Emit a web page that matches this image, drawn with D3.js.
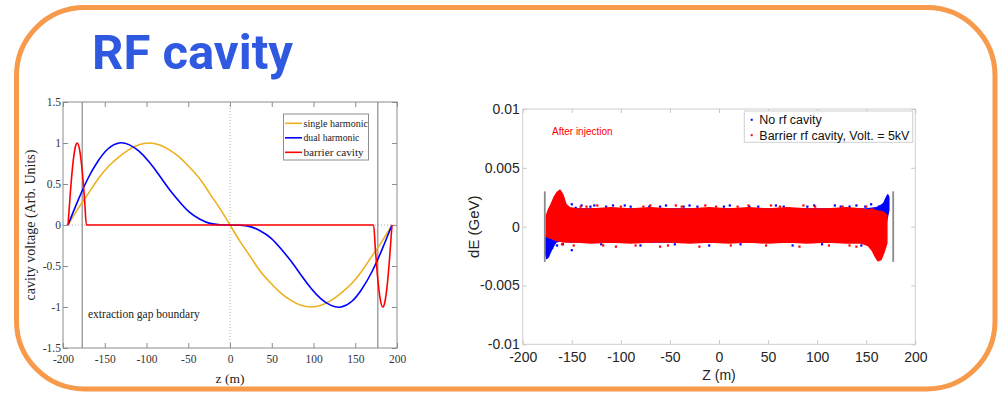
<!DOCTYPE html>
<html>
<head>
<meta charset="utf-8">
<script src="https://cdn.jsdelivr.net/npm/d3@7"></script>
<style>
  html, body { margin: 0; padding: 0; background: #fff; }
  svg { display: block; }
</style>
</head>
<body>
<svg id="slide" width="1008" height="394"></svg>
<script>
// ---------- left plot : cavity voltage shapes ----------
const zGrid = [-194, -182, -170, -158, -146, -133, -121, -109, -97, -85, -73, -61, -49, -36, -24, -12, 0,
  12, 24, 36, 49, 61, 73, 85, 97, 109, 121, 133, 146, 158, 170, 182, 194];
const singleHarmonic = [0, 0.2, 0.38, 0.56, 0.71, 0.83, 0.92, 0.98, 1, 0.98, 0.92, 0.83, 0.71, 0.56, 0.38, 0.2, 0,
  -0.2, -0.38, -0.56, -0.71, -0.83, -0.92, -0.98, -1, -0.98, -0.92, -0.83, -0.71, -0.56, -0.38, -0.2, 0];
const dualHarmonic = [0, 0.3, 0.57, 0.78, 0.93, 1, 0.98, 0.9, 0.77, 0.61, 0.44, 0.29, 0.16, 0.07, 0.02, 0.003, 0,
  -0.003, -0.02, -0.07, -0.16, -0.29, -0.44, -0.61, -0.77, -0.9, -0.98, -1, -0.93, -0.78, -0.57, -0.3, 0];
const zBarrier = [-194, -191, -188, -185, -183, -180, -177, -174, -172, 172, 174, 177, 180, 183, 185, 188, 191, 194];
const barrierCavity = [0, 0.42, 0.76, 0.96, 1, 0.91, 0.66, 0.28, 0, 0, -0.28, -0.66, -0.91, -1, -0.96, -0.76, -0.42, 0];
const gapBoundaryL = [-177, 177];
const xTicksL = [-200, -150, -100, -50, 0, 50, 100, 150, 200];
const yTicksL = [-1.5, -1, -0.5, 0, 0.5, 1, 1.5];
const legendNamesL = ["single harmonic", "dual harmonic", "barrier cavity"];
const colorsL = ["#edb120", "#0000ff", "#ff0000"];

// ---------- right plot : dE vs Z after injection ----------
const zRed = [-176, -174, -171, -168, -165, -162, -159, -156, -152, -145, -130, -110, -90, -70, -50, -30, -10,
  10, 30, 50, 70, 90, 110, 130, 145, 152, 156, 159, 162, 165, 168, 171];
const redTop = [0.0009, 0.0014, 0.0019, 0.0025, 0.0029, 0.0031, 0.0027, 0.0019, 0.0016, 0.0015, 0.0015, 0.0016,
  0.0015, 0.0016, 0.0015, 0.0015, 0.0016, 0.0015, 0.0016, 0.0015, 0.0016, 0.0015, 0.0015, 0.0016, 0.0015,
  0.0014, 0.0015, 0.0014, 0.0013, 0.0013, 0.0012, 0.0010];
const redBottom = [-0.0008, -0.0009, -0.0010, -0.0011, -0.0012, -0.0012, -0.0013, -0.0013, -0.0013, -0.0013,
  -0.0014, -0.0013, -0.0014, -0.0013, -0.0013, -0.0014, -0.0013, -0.0014, -0.0013, -0.0014, -0.0013, -0.0014,
  -0.0013, -0.0014, -0.0014, -0.0016, -0.0020, -0.0025, -0.0029, -0.0028, -0.0022, -0.0014];
const zBlue = [-177, -175.5, -174, -172, -169, -166, -162, -150, -100, -50, 0, 50, 100, 150, 160, 165, 168, 170, 172, 173];
const blueTop = [-0.0012, -0.0006, 0.0004, 0.0010, 0.0012, 0.0013, 0.0014, 0.0015, 0.0015, 0.0015, 0.0015, 0.0015,
  0.0015, 0.0015, 0.0016, 0.0018, 0.0020, 0.0024, 0.0027, 0.0025];
const blueBottom = [-0.0022, -0.0027, -0.0026, -0.0022, -0.0017, -0.0013, -0.0012, -0.0013, -0.0013, -0.0013,
  -0.0013, -0.0013, -0.0013, -0.0013, -0.0012, -0.0010, -0.0006, 0.0002, 0.0010, 0.0014];
const blueStray = [[-157, 0.0017], [-150, 0.0019], [-146, 0.0016], [-140, 0.0018], [-131, 0.0017], [-127, 0.0018],
  [-120, -0.0015], [-115, 0.0017], [-108, 0.0018], [-96, 0.0018], [-90, 0.0017], [-80, -0.0016], [-71, 0.0017],
  [-60, 0.0017], [-54, 0.0018], [-45, -0.0015], [-36, 0.0017], [-30, 0.0018], [-22, 0.0017], [-10, -0.0016],
  [5, 0.0017], [11, 0.0018], [22, -0.0015], [31, 0.0017], [40, 0.0017], [58, 0.0018], [66, 0.0017],
  [75, -0.0016], [90, 0.0017], [97, 0.0018], [105, -0.0015], [118, 0.0018], [124, 0.0017], [133, 0.0017],
  [140, 0.0018], [145, -0.0016], [149, 0.0017], [155, 0.0019], [163, 0.0017], [-165, -0.0016], [-159, -0.0015],
  [-170, -0.0018], [-150, -0.0020]];
const redStray = [[-148, -0.0016], [-141, 0.0017], [-135, 0.0017], [-124, 0.0018], [-118, -0.0016],
  [-100, 0.0017], [-85, -0.0016], [-77, 0.0017], [-70, 0.0018], [-52, -0.0016], [-44, 0.0018], [-38, 0.0017],
  [-20, -0.0017], [-14, 0.0018], [-3, 0.0017], [12, -0.0016], [19, 0.0017], [30, 0.0018], [48, -0.0016],
  [53, 0.0018], [62, 0.0017], [82, -0.0017], [86, 0.0018], [98, 0.0017], [112, -0.0016], [126, 0.0017],
  [133, -0.0016], [140, -0.0017], [150, 0.0017], [-160, -0.0015], [-105, -0.0017], [-60, -0.0017]];
const gapBoundaryR = [-177.5, 177.5];
const gapHalfHeightR = 0.003;
const xTicksR = [-200, -150, -100, -50, 0, 50, 100, 150, 200];
const yTicksR = [-0.01, -0.005, 0, 0.005, 0.01];
const legendNamesR = ["No rf cavity", "Barrier rf cavity, Volt. = 5kV"];
const colorsR = ["#0000ff", "#ff0000"];

const svg = d3.select("#slide");
const serif = "'Liberation Serif', 'Times New Roman', serif";
const sans = "'Liberation Sans', Arial, Helvetica, sans-serif";

// title
svg.append("text")
  .attr("x", 92).attr("y", 69)
  .attr("font-family", "Roboto, 'Noto Sans', sans-serif")
  .attr("font-weight", "bold")
  .attr("font-size", 49)
  .attr("fill", "#2f59e0")
  .text("RF cavity");

// ===== left chart =====
const xL = d3.scaleLinear().domain([-200, 200]).range([63, 397]);
const yL = d3.scaleLinear().domain([-1.5, 1.5]).range([348, 102]);
const gL = svg.append("g");

gL.append("rect")
  .attr("x", xL(-200)).attr("y", yL(1.5))
  .attr("width", xL(200) - xL(-200)).attr("height", yL(-1.5) - yL(1.5))
  .attr("fill", "none").attr("stroke", "#8c8c8c");

function styleAxis(g, color, font, size, tcolor) {
  g.select(".domain").remove();
  g.selectAll(".tick line").attr("stroke", color);
  g.selectAll(".tick text").attr("fill", tcolor).attr("font-family", font).attr("font-size", size);
}

gL.append("g").attr("transform", `translate(0,${yL(-1.5)})`)
  .call(d3.axisBottom(xL).tickValues(xTicksL).tickSize(-5).tickPadding(7).tickFormat(d => String(d)))
  .call(g => styleAxis(g, "#8c8c8c", serif, 11.5, "#333"));
gL.append("g").attr("transform", `translate(0,${yL(1.5)})`)
  .call(d3.axisTop(xL).tickValues(xTicksL).tickSize(-5).tickFormat(""))
  .call(g => styleAxis(g, "#8c8c8c", serif, 11.5, "#333"));
gL.append("g").attr("transform", `translate(${xL(-200)},0)`)
  .call(d3.axisLeft(yL).tickValues(yTicksL).tickSize(-5).tickPadding(2).tickFormat(d => String(d)))
  .call(g => styleAxis(g, "#8c8c8c", serif, 11.5, "#333"));
gL.append("g").attr("transform", `translate(${xL(200)},0)`)
  .call(d3.axisRight(yL).tickValues(yTicksL).tickSize(-5).tickFormat(""))
  .call(g => styleAxis(g, "#8c8c8c", serif, 11.5, "#333"));

// dotted zero lines
gL.append("line").attr("x1", xL(0)).attr("x2", xL(0)).attr("y1", yL(1.5)).attr("y2", yL(-1.5))
  .attr("stroke", "#b0b0b0").attr("stroke-dasharray", "1,2");
gL.append("line").attr("x1", xL(-200)).attr("x2", xL(200)).attr("y1", yL(0)).attr("y2", yL(0))
  .attr("stroke", "#b0b0b0").attr("stroke-dasharray", "1,2");

// extraction gap boundary lines
gL.selectAll(".gap").data(gapBoundaryL).enter().append("line")
  .attr("x1", d => xL(d)).attr("x2", d => xL(d))
  .attr("y1", yL(1.5)).attr("y2", yL(-1.5))
  .attr("stroke", "#8c8c8c").attr("stroke-width", 1.2);

const smoothLine = d3.line().x(d => xL(d[0])).y(d => yL(d[1])).curve(d3.curveNatural);
const barrierLine = d3.line().x(d => xL(d[0])).y(d => yL(d[1])).curve(d3.curveMonotoneX);
const seriesL = [
  d3.zip(zGrid, singleHarmonic),
  d3.zip(zGrid, dualHarmonic),
  d3.zip(zBarrier, barrierCavity)
];
seriesL.forEach((s, i) => {
  gL.append("path").datum(s)
    .attr("d", i < 2 ? smoothLine : barrierLine)
    .attr("fill", "none").attr("stroke", colorsL[i]).attr("stroke-width", 1.6);
});

gL.append("text").attr("x", 88).attr("y", 318)
  .attr("font-family", serif).attr("font-size", 11.5).attr("fill", "#222")
  .text("extraction gap boundary");

gL.append("text").attr("x", xL(0)).attr("y", 383)
  .attr("text-anchor", "middle")
  .attr("font-family", serif).attr("font-size", 13.5).attr("fill", "#222")
  .text("z (m)");

gL.append("text")
  .attr("transform", `translate(35,${yL(0)}) rotate(-90)`)
  .attr("text-anchor", "middle")
  .attr("font-family", serif).attr("font-size", 14).attr("fill", "#222")
  .text("cavity voltage (Arb. Units)");

// legend
const legL = gL.append("g");
legL.append("rect").attr("x", 283.5).attr("y", 114).attr("width", 85).attr("height", 46)
  .attr("fill", "#fff").attr("stroke", "#8c8c8c");
legendNamesL.forEach((name, i) => {
  const y = 123.3 + i * 14.5;
  legL.append("line").attr("x1", 285).attr("x2", 302).attr("y1", y).attr("y2", y)
    .attr("stroke", colorsL[i]).attr("stroke-width", 1.6);
  legL.append("text").attr("x", 303.5).attr("y", y).attr("dy", "0.33em")
    .attr("font-family", serif).attr("font-size", 11).attr("fill", "#222")
    .attr("textLength", name.length * 4.3).attr("lengthAdjust", "spacingAndGlyphs")
    .text(name);
});

// ===== right chart =====
const xR = d3.scaleLinear().domain([-200, 200]).range([522.7, 915.3]);
const yR = d3.scaleLinear().domain([-0.01, 0.01]).range([344.3, 109]);
const gR = svg.append("g");

gR.append("rect")
  .attr("x", xR(-200)).attr("y", yR(0.01))
  .attr("width", xR(200) - xR(-200)).attr("height", yR(-0.01) - yR(0.01))
  .attr("fill", "none").attr("stroke", "#d0d0d0");

gR.append("g").attr("transform", `translate(0,${yR(-0.01)})`)
  .call(d3.axisBottom(xR).tickValues(xTicksR).tickSize(-4).tickPadding(8).tickFormat(d => String(d)))
  .call(g => styleAxis(g, "#c8c8c8", sans, 14, "#262626"));
gR.append("g").attr("transform", `translate(0,${yR(0.01)})`)
  .call(d3.axisTop(xR).tickValues(xTicksR).tickSize(-4).tickFormat(""))
  .call(g => styleAxis(g, "#c8c8c8", sans, 14, "#262626"));
gR.append("g").attr("transform", `translate(${xR(-200)},0)`)
  .call(d3.axisLeft(yR).tickValues(yTicksR).tickSize(-4).tickPadding(3).tickFormat(d => String(d)))
  .call(g => styleAxis(g, "#c8c8c8", sans, 14, "#262626"));
gR.append("g").attr("transform", `translate(${xR(200)},0)`)
  .call(d3.axisRight(yR).tickValues(yTicksR).tickSize(-4).tickFormat(""))
  .call(g => styleAxis(g, "#c8c8c8", sans, 14, "#262626"));

const areaR = d3.area().x(d => xR(d[0])).y0(d => yR(d[2])).y1(d => yR(d[1]));
gR.append("path").datum(d3.zip(zBlue, blueTop, blueBottom))
  .attr("d", areaR).attr("fill", colorsR[0]).attr("stroke", colorsR[0]).attr("stroke-width", 1.5)
  .attr("stroke-linejoin", "round");
gR.selectAll(".bs").data(blueStray).enter().append("rect")
  .attr("x", d => xR(d[0]) - 1.1).attr("y", d => yR(d[1]) - 1.1)
  .attr("width", 2.2).attr("height", 2.2).attr("fill", colorsR[0]);
gR.append("path").datum(d3.zip(zRed, redTop, redBottom))
  .attr("d", areaR).attr("fill", colorsR[1]).attr("stroke", colorsR[1]).attr("stroke-width", 1.5)
  .attr("stroke-linejoin", "round");
gR.selectAll(".rs").data(redStray).enter().append("rect")
  .attr("x", d => xR(d[0]) - 1.1).attr("y", d => yR(d[1]) - 1.1)
  .attr("width", 2.2).attr("height", 2.2).attr("fill", colorsR[1]);

gR.selectAll(".gapR").data(gapBoundaryR).enter().append("line")
  .attr("x1", d => xR(d)).attr("x2", d => xR(d))
  .attr("y1", yR(gapHalfHeightR)).attr("y2", yR(-gapHalfHeightR))
  .attr("stroke", "#8a8a8a").attr("stroke-width", 1.8);

gR.append("text").attr("x", 552).attr("y", 135)
  .attr("font-family", sans).attr("font-size", 10).attr("fill", "#ff0000")
  .text("After injection");

gR.append("text").attr("x", xR(0)).attr("y", 380)
  .attr("text-anchor", "middle")
  .attr("font-family", sans).attr("font-size", 14).attr("fill", "#262626")
  .text("Z (m)");
gR.append("text")
  .attr("transform", `translate(479,${yR(0)}) rotate(-90)`)
  .attr("text-anchor", "middle")
  .attr("font-family", sans).attr("font-size", 15).attr("fill", "#262626")
  .text("dE (GeV)");

const legR = gR.append("g");
legR.append("rect").attr("x", 744.3).attr("y", 111).attr("width", 168.4).attr("height", 31.3)
  .attr("fill", "#fff").attr("stroke", "#d0d0d0");
legendNamesR.forEach((name, i) => {
  const y = 119.8 + i * 15.4;
  legR.append("rect").attr("x", 750.7).attr("y", y - 1).attr("width", 2).attr("height", 2)
    .attr("fill", colorsR[i]);
  legR.append("text").attr("x", 759.3).attr("y", y).attr("dy", "0.36em")
    .attr("font-family", sans).attr("font-size", 12.5).attr("fill", "#111")
    .text(name);
});

// orange rounded frame
svg.append("rect")
  .attr("x", 16.5).attr("y", 7.5).attr("width", 978.5).attr("height", 381.5)
  .attr("rx", 68).attr("ry", 68)
  .attr("fill", "none").attr("stroke", "#f79a4b").attr("stroke-width", 5);
</script>
</body>
</html>
